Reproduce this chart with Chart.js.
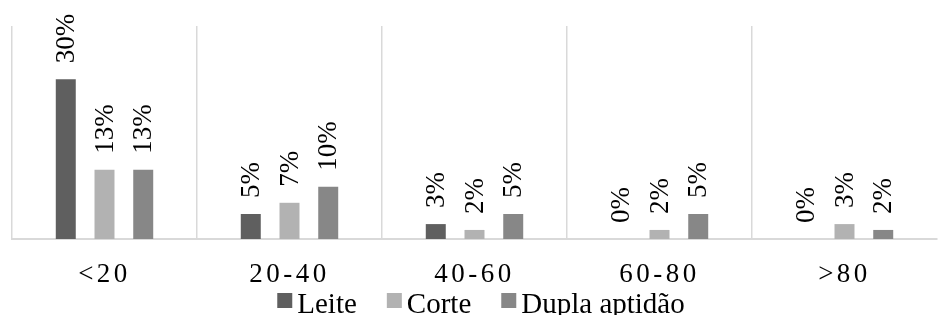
<!DOCTYPE html>
<html><head><meta charset="utf-8">
<script src="https://cdn.jsdelivr.net/npm/chart.js@4/dist/chart.umd.min.js"></script>
<style>html,body{margin:0;padding:0;background:#fff;overflow:hidden}canvas{display:block}</style>
</head><body>
<canvas id="c" width="939" height="315"></canvas>
<script>
const categories = ['<20', '20-40', '40-60', '60-80', '>80'];
const seriesNames = ['Leite', 'Corte', 'Dupla aptidão'];
const leite = [30, 4.7, 2.8, 0, 0];
const corte = [13, 6.8, 1.7, 1.7, 2.8];
const dupla = [13, 9.8, 4.7, 4.7, 1.7];
const colors = ['#5f5f5f', '#b2b2b2', '#878787'];
const yMax = 40;

const FONT = "'Liberation Serif', 'Times New Roman', serif";

const customPlugin = {
  id: 'custom',
  beforeDraw(chart) { chart.ctx.letterSpacing = '3.5px'; },
  beforeDatasetsDraw(chart) { chart.ctx.letterSpacing = '0px'; },
  afterDatasetsDraw(chart) {
    const ctx = chart.ctx;
    ctx.save();
    ctx.font = '27px ' + FONT;
    ctx.fillStyle = '#000';
    ctx.textAlign = 'left';
    ctx.textBaseline = 'middle';
    chart.data.datasets.forEach((ds, di) => {
      const meta = chart.getDatasetMeta(di);
      meta.data.forEach((bar, i) => {
        const txt = Math.round(ds.data[i]) + '%';
        ctx.save();
        ctx.translate(bar.x + 1, bar.y - 16);
        ctx.rotate(-Math.PI / 2);
        ctx.fillText(txt, 0, 0);
        ctx.restore();
      });
    });
    // legend
    ctx.font = '29px ' + FONT;
    ctx.textBaseline = 'alphabetic';
    const box = 15, gapBT = 5, gapItems = 30;
    const widths = chart.data.datasets.map(d => ctx.measureText(d.label).width);
    const total = widths.reduce((a, w) => a + box + gapBT + w, 0) + gapItems * (widths.length - 1);
    let x = 481 - total / 2;
    const baseY = 313;
    chart.data.datasets.forEach((ds, di) => {
      ctx.fillStyle = ds.backgroundColor;
      ctx.fillRect(x, baseY - 20, box, box);
      ctx.fillStyle = '#000';
      ctx.fillText(ds.label, x + box + gapBT, baseY);
      x += box + gapBT + widths[di] + gapItems;
    });
    ctx.restore();
  }
};

new Chart(document.getElementById('c'), {
  type: 'bar',
  data: {
    labels: categories,
    datasets: [
      { label: seriesNames[0], data: leite, backgroundColor: colors[0] },
      { label: seriesNames[1], data: corte, backgroundColor: colors[1] },
      { label: seriesNames[2], data: dupla, backgroundColor: colors[2] }
    ]
  },
  options: {
    responsive: false,
    animation: false,
    devicePixelRatio: 1,
    layout: { padding: { left: 12, right: 2, top: 26, bottom: 0 } },
    datasets: { bar: { categoryPercentage: 0.628, barPercentage: 0.516 } },
    plugins: { legend: { display: false }, tooltip: { enabled: false } },
    scales: {
      x: {
        grid: {
          offset: true,
          drawTicks: false,
          color: (c) => c.type === 'tick' ? '#d9d9d9' : 'rgba(0,0,0,0)',
          lineWidth: 1.5
        },
        border: { display: true, color: '#d9d9d9', width: 2 },
        ticks: { color: '#000', font: { family: FONT, size: 27 }, padding: 20, maxRotation: 0, autoSkip: false },
        afterFit(scale) { scale.height = 76; }
      },
      y: { display: false, min: 0, max: yMax }
    }
  },
  plugins: [customPlugin]
});
</script>
</body></html>
